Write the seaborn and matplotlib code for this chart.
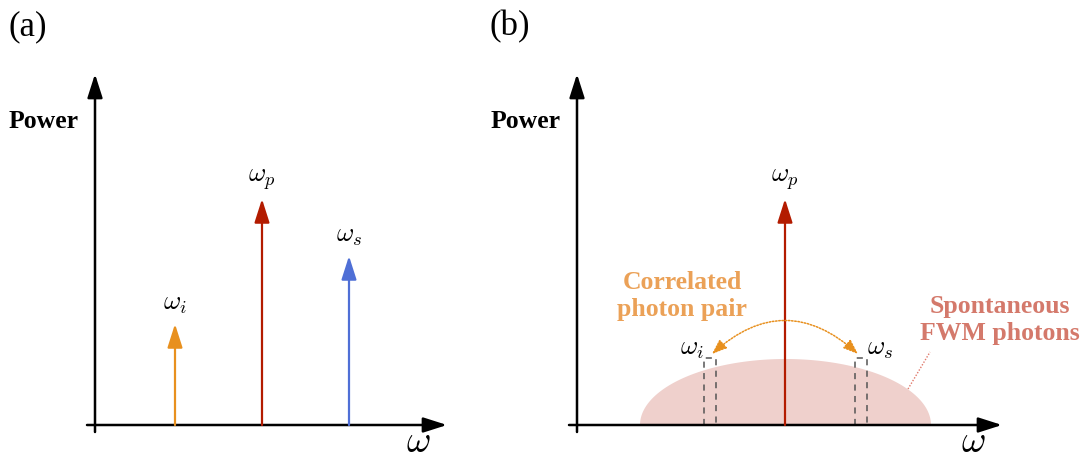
import numpy as np
import matplotlib
matplotlib.use("Agg")
import matplotlib.pyplot as plt
import seaborn as sns

sns.set_theme(style="white")
plt.rcParams["font.family"] = ["Liberation Serif", "DejaVu Serif"]
plt.rcParams["mathtext.fontset"] = "cm"
plt.rcParams["text.color"] = "black"

# Panel (a): idler, pump and signal spectral lines (frequency, power)
labels_a = [r"$\omega_i$", r"$\omega_p$", r"$\omega_s$"]
freq_a = [0.80, 1.67, 2.54]
power_a = [1.01, 2.26, 1.69]
colors_a = ["#E8901E", "#B31B00", "#4F6FD6"]

# Panel (b): pump line on top of the spontaneous FWM background
pump_label_b = r"$\omega_p$"
pump_freq_b = 2.08
pump_power_b = 2.26
pair_labels_b = [r"$\omega_i$", r"$\omega_s$"]
pair_bands_b = [(1.27, 1.39), (2.78, 2.90)]
band_top_b = 0.67
fwm_center = 2.085
fwm_halfwidth = 1.455
fwm_height = 0.66

BLACK = "#000000"
ORANGE_TXT = "#EBA157"
FWM_FILL = "#EFD0CC"
FWM_TXT = "#D4796B"
FWM_LINE = "#E0786A"

fig = plt.figure(figsize=(10.92, 4.6), dpi=100)
ax_a = fig.add_axes([0.0, 0.0, 0.5, 1.0])
ax_b = fig.add_axes([0.5, 0.0, 0.5, 1.0])
ax_a.set_xlim(-0.95, 4.51)
ax_b.set_xlim(-0.31, 5.15)
for ax in (ax_a, ax_b):
    ax.set_ylim(-0.34, 4.26)
    ax.axis("off")


def arrow(ax, x0, y0, x1, y1, color, lw, **kw):
    ax.annotate("", xy=(x1, y1), xytext=(x0, y0),
                arrowprops=dict(arrowstyle="-|>,head_length=0.72,head_width=0.23",
                                mutation_scale=20, color=color, lw=lw,
                                shrinkA=0, shrinkB=0, **kw))


def frame(ax, x_end, tag):
    arrow(ax, 0, -0.07, 0, 3.51, BLACK, 1.8)
    arrow(ax, -0.08, 0, x_end, 0, BLACK, 1.8)
    ax.text(x_end - 0.29, -0.265, r"$\omega$", fontsize=27, ha="center", va="baseline")
    ax.text(-0.51, 3.04, "Power", fontsize=18.5, fontweight="bold",
            ha="center", va="center")
    ax.text(-0.67, 3.99, tag, fontsize=25, ha="center", va="center")


# ---- panel (a)
frame(ax_a, 3.52, "(a)")
for lab, f, p, c in zip(labels_a, freq_a, power_a, colors_a):
    arrow(ax_a, f, 0, f, p, c, 1.6)
    ax_a.text(f, p + 0.20, lab, fontsize=19, ha="center", va="center")

# ---- panel (b)
t = np.linspace(0, np.pi, 300)
ax_b.fill(fwm_center + fwm_halfwidth * np.cos(t), fwm_height * np.sin(t),
          color=FWM_FILL, lw=0, zorder=1)
frame(ax_b, 4.25, "(b)")

for (lo, hi) in pair_bands_b:
    ax_b.plot([lo, lo, hi, hi], [0, band_top_b, band_top_b, 0],
              color="#555555", lw=1.1, ls=(0, (4, 3.5)), zorder=2)

arrow(ax_b, pump_freq_b, 0, pump_freq_b, pump_power_b, "#B31B00", 1.6)
ax_b.text(pump_freq_b, pump_power_b + 0.20, pump_label_b, fontsize=19,
          ha="center", va="center")

ax_b.text(1.15, 0.76, pair_labels_b[0], fontsize=19, ha="center", va="center")
ax_b.text(3.03, 0.76, pair_labels_b[1], fontsize=19, ha="center", va="center")

# correlation arc between idler and signal
ax_b.annotate("", xy=(2.81, 0.71), xytext=(1.35, 0.71),
              arrowprops=dict(arrowstyle="<|-|>,head_length=0.45,head_width=0.17",
                              mutation_scale=20, color="#E8901E", lw=1.1,
                              ls=(0, (1, 1.1)), shrinkA=0, shrinkB=0,
                              connectionstyle="arc3,rad=-0.45"))
ax_b.text(1.05, 1.30, "Correlated\nphoton pair", fontsize=18.5, fontweight="bold",
          color=ORANGE_TXT, ha="center", va="center", linespacing=1.2)

ax_b.plot([3.31, 3.53], [0.36, 0.73], color=FWM_LINE, lw=1.0, ls=(0, (1, 1.2)))
ax_b.text(4.23, 1.06, "Spontaneous\nFWM photons", fontsize=18.5, fontweight="bold",
          color=FWM_TXT, ha="center", va="center", linespacing=1.2)

fig.savefig("out.png", dpi=100)
